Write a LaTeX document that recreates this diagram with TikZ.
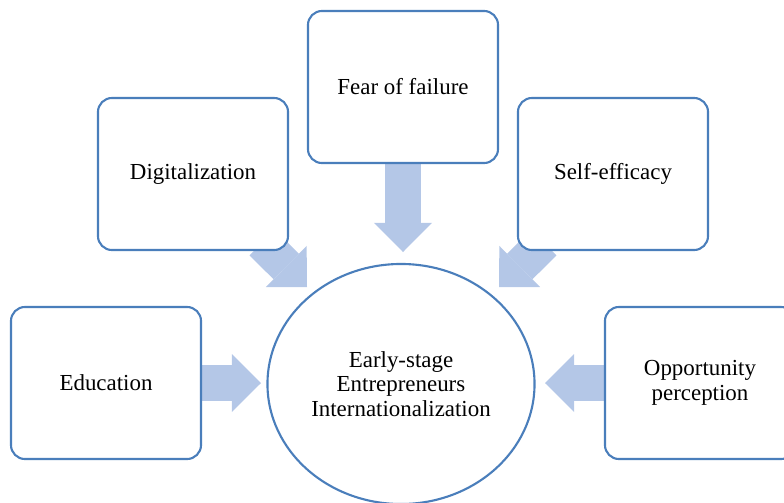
\documentclass[tikz,border=0pt]{standalone}
\usepackage{fontspec}
\setmainfont{Liberation Serif}
\usepackage{tikz}
\usetikzlibrary{positioning}
\usetikzlibrary{shapes.geometric,calc,arrows.meta,backgrounds}
\definecolor{boxline}{RGB}{74,126,187}
\definecolor{flowfill}{RGB}{180,199,231}
\tikzset{
	semithick,
	factor/.style ={rectangle, rounded corners=0.35cm, draw=boxline, line width=1.5pt,
		fill=white, minimum width=4.75cm, minimum height=3.8cm, align=center,
		font=\fontsize{16.3}{17.6}\selectfont},
	core/.style = {ellipse, draw=boxline, line width=1.5pt, fill=white,
		minimum width=6.6cm, minimum height=6cm, align=center,
		font=\fontsize{16.3}{17.6}\selectfont},
	flow/.style = {draw=flowfill, line width=0.9cm,
		-{Triangle[length=0.73cm, width=1.45cm, line width=0pt]}},
}

\begin{document}
\begin{tikzpicture}[x=0.025cm, y=-0.025cm]
	\useasboundingbox (0,0) rectangle (784,502);
	\node (circ) [core] at (401,384) {Early-stage\\Entrepreneurs\\Internationalization};
	\node (edu)  [factor] at (106,383) {Education};
	\node (dig)  [factor] at (193,174) {Digitalization};
	\node (fear) [factor] at (403,87)  {Fear of failure};
	\node (self) [factor] at (613,174) {Self-efficacy};
	\node (opp)  [factor] at (700,383) {Opportunity\\perception};
	% arrow tips, just short of the ellipse
	\coordinate (tipedu)  at (261,383);
	\coordinate (tipdig)  at (307,287);
	\coordinate (tipfear) at (403,252);
	\coordinate (tipself) at (499,287);
	\coordinate (tipopp)  at (545,383);
	\begin{scope}[on background layer]
		\draw[flow] (edu) -- (tipedu);
		\draw[flow, shorten <=-0.3cm] (dig) -- (tipdig);
		\draw[flow] (fear) -- (tipfear);
		\draw[flow, shorten <=-0.3cm] (self) -- (tipself);
		\draw[flow] (opp) -- (tipopp);
	\end{scope}
\end{tikzpicture}
\end{document}
